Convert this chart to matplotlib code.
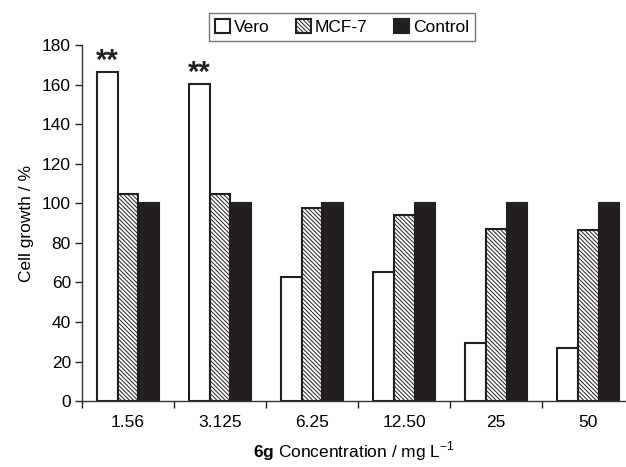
import matplotlib
matplotlib.use("Agg")
import matplotlib.pyplot as plt
import numpy as np

categories = ["1.56", "3.125", "6.25", "12.50", "25", "50"]
vero = [166.5, 160.5, 63, 65.5, 29.5, 27]
mcf7 = [104.5, 104.5, 97.5, 94, 87, 86.5]
control = [100, 100, 100, 100, 100, 100]
series_names = ["Vero", "MCF-7", "Control"]
stars = ["**", "**", "", "", "", ""]

plt.rcParams['font.family'] = ['Liberation Sans', 'DejaVu Sans']
plt.rcParams['mathtext.fontset'] = 'custom'
plt.rcParams['mathtext.rm'] = 'Liberation Sans'
plt.rcParams['mathtext.bf'] = 'Liberation Sans:bold'
plt.rcParams['hatch.linewidth'] = 0.7

fs = 12.5
fig = plt.figure(figsize=(6.26, 4.67), dpi=100)
ax = fig.add_axes([0.131, 0.141, 0.869, 0.7626])

x = np.arange(len(categories))
w = 0.225
ec = '#231f20'
b1 = ax.bar(x - w, vero, w, color='white', edgecolor=ec, linewidth=1.5, label=series_names[0])
b2 = ax.bar(x, mcf7, w, color='white', edgecolor=ec, linewidth=1.5, hatch='\\\\\\\\\\\\\\\\', label=series_names[1])
b3 = ax.bar(x + w, control, w, color=ec, edgecolor=ec, linewidth=1.5, label=series_names[2])

for xi, v, s in zip(x, vero, stars):
    if s:
        ax.text(xi - w, v - 1.5, s, ha='center', va='bottom', fontsize=21, color=ec,
                fontweight='bold')

ax.set_xlim(-0.5, 5.41)
ax.set_ylim(0, 180)
ax.set_yticks(np.arange(0, 181, 20))
ax.set_xticks(x)
ax.set_xticklabels(categories, fontsize=fs)
ax.set_xticks(np.arange(-0.5, 5.5, 1.0), minor=True)
ax.tick_params(axis='x', which='major', length=0, pad=10)
ax.tick_params(axis='x', which='minor', length=5, direction='out', width=1, color=ec)
ax.tick_params(axis='y', length=5, direction='out', width=1, labelsize=fs, pad=3, color=ec)

for s in ['top', 'right']:
    ax.spines[s].set_visible(False)
for s in ['left', 'bottom']:
    ax.spines[s].set_linewidth(1.0)
    ax.spines[s].set_color('#333333')

ax.set_ylabel("Cell growth / %", fontsize=fs, labelpad=6)
ax.set_xlabel(r"$\mathbf{6g}$ Concentration / mg L$^{-1}$", fontsize=fs, labelpad=7)

leg = ax.legend(loc='upper center', bbox_to_anchor=(0.478, 1.115), ncol=3, frameon=True,
                fancybox=False, edgecolor='#555555', fontsize=fs, handlelength=0.85,
                handleheight=0.85, handletextpad=0.25, columnspacing=1.5, borderpad=0.35)
leg.get_frame().set_linewidth(1.0)

fig.savefig("out.png", dpi=100)
